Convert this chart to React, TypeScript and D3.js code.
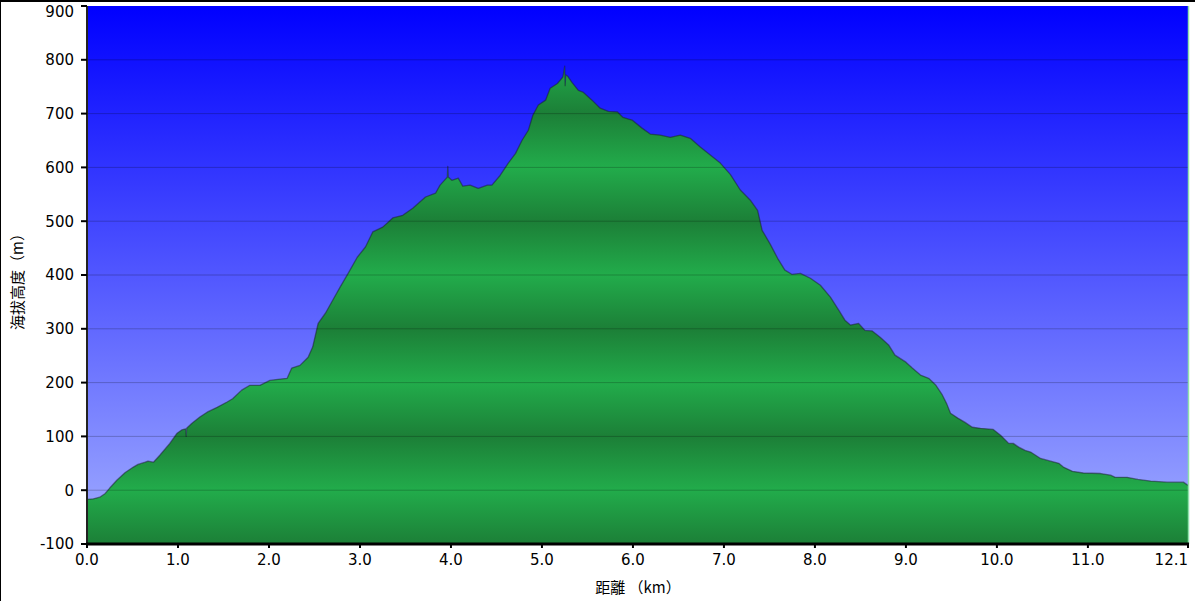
import * as d3 from 'd3';

// elevation profile (km, m)
const distKm = [
  0.0, 0.07, 0.14, 0.2, 0.25, 0.33, 0.42, 0.51, 0.56, 0.64, 0.67, 0.73, 0.8, 0.91, 0.99,
  1.04, 1.085, 1.09, 1.095, 1.15, 1.24, 1.32, 1.43, 1.54, 1.6, 1.7, 1.79, 1.9, 2.01, 2.1,
  2.2, 2.25, 2.34, 2.43, 2.48, 2.54, 2.62, 2.7, 2.78, 2.87, 2.97, 3.06, 3.14, 3.25, 3.36,
  3.47, 3.58, 3.72, 3.83, 3.88, 3.96, 3.965, 3.97, 4.01, 4.08, 4.13, 4.21, 4.3, 4.4, 4.45,
  4.54, 4.63, 4.71, 4.78, 4.85, 4.9, 4.96, 5.04, 5.09, 5.17, 5.23, 5.25, 5.255, 5.26, 5.28,
  5.33, 5.4, 5.45, 5.55, 5.64, 5.73, 5.83, 5.89, 5.99, 6.1, 6.19, 6.3, 6.41, 6.52, 6.63,
  6.74, 6.85, 6.96, 7.07, 7.18, 7.29, 7.37, 7.42, 7.51, 7.59, 7.67, 7.75, 7.84, 7.95, 8.06,
  8.17, 8.26, 8.33, 8.39, 8.48, 8.55, 8.63, 8.72, 8.81, 8.88, 9.0, 9.07, 9.16, 9.25, 9.33,
  9.4, 9.45, 9.49, 9.57, 9.65, 9.73, 9.82, 9.96, 10.04, 10.13, 10.18, 10.24, 10.31, 10.37, 10.48,
  10.59, 10.68, 10.73, 10.83, 10.95, 11.14, 11.25, 11.3, 11.43, 11.55, 11.69, 11.87, 12.05, 12.1,
];
const elevM = [
  -17, -16, -13, -6, 4, 19, 33, 43, 48, 52, 54, 52, 65, 87, 106,
  112, 114, 100, 115, 124, 136, 145, 154, 164, 170, 186, 195, 195, 204, 206,
  208, 227, 232, 247, 266, 310, 329, 353, 377, 403, 433, 452, 480, 489, 506,
  511, 524, 545, 552, 567, 582, 602, 582, 576, 580, 565, 567, 561, 567, 567,
  585, 608, 626, 650, 669, 697, 716, 725, 747, 756, 768, 788, 752, 772, 770,
  758, 743, 740, 725, 710, 704, 703, 693, 688, 673, 662, 660, 656, 660, 654,
  638, 623, 608, 587, 558, 539, 520, 483, 457, 431, 409, 401, 403, 394, 381,
  359, 335, 316, 307, 310, 297, 296, 284, 270, 251, 238, 227, 214, 208, 195,
  177, 160, 143, 134, 126, 117, 115, 113, 102, 87, 87, 80, 74, 71, 59,
  54, 50, 43, 35, 32, 31, 28, 24, 24, 20, 17, 15, 15, 9,
];

const xTicks = [0, 1, 2, 3, 4, 5, 6, 7, 8, 9, 10, 11, 12.1];
const yTicks = [-100, 0, 100, 200, 300, 400, 500, 600, 700, 800, 900];
const xTitle = '距離 （km）';
const yTitle = '海拔高度（m）';

const W = 1195;
const H = 601;
const left = 87;
const right = 1188;
const top = 6;
const bottom = 544;

const font = '"DejaVu Sans", Verdana, sans-serif';
const cjk = '"Noto Sans CJK JP", "Noto Sans CJK SC", sans-serif';

export default function App() {
  const x = d3.scaleLinear().domain([0, 12.1]).range([left, right]);
  const y = d3.scaleLinear().domain([-100, 900]).range([bottom, top]);

  const pts = distKm.map((d, i) => ({ d, e: elevM[i] }));

  const area = d3.area<(typeof pts)[0]>()
    .x((p) => x(p.d))
    .y0(y(-100))
    .y1((p) => y(p.e));
  const line = d3.line<(typeof pts)[0]>()
    .x((p) => x(p.d))
    .y((p) => y(p.e));

  // green bands: light at even hundreds, dark at odd hundreds
  const bandStops = yTicks
    .map((v) => ({
      offset: (y(v) - top) / (bottom - top),
      color: Math.abs(v / 100) % 2 === 0 ? '#22ac4b' : '#1c7f37',
    }))
    .sort((a, b) => a.offset - b.offset);

  return (
    <svg
      width={W}
      height={H}
      style={{ position: 'absolute', left: 0, top: 0, background: '#fff' }}
    >
      <defs>
        <linearGradient id="sky" x1="0" y1="0" x2="0" y2="1">
          <stop offset="0" stopColor="#0000ff" />
          <stop offset="1" stopColor="#a2aeff" />
        </linearGradient>
        <linearGradient
          id="ground"
          gradientUnits="userSpaceOnUse"
          x1="0"
          y1={top}
          x2="0"
          y2={bottom}
        >
          {bandStops.map((s, i) => (
            <stop key={i} offset={s.offset} stopColor={s.color} />
          ))}
        </linearGradient>
      </defs>

      {/* frame */}
      <line x1={0} y1={1} x2={W} y2={1} stroke="#000" strokeWidth={2} />
      <line x1={0.5} y1={0} x2={0.5} y2={H} stroke="#000" strokeWidth={1} />

      {/* plot background */}
      <rect x={left} y={top} width={right - left} height={bottom - top} fill="url(#sky)" />

      {/* elevation area */}
      <path d={area(pts) ?? ''} fill="url(#ground)" />
      <path
        d={line(pts) ?? ''}
        fill="none"
        stroke="#1a1a30"
        strokeOpacity={0.5}
        strokeWidth={1.3}
        strokeLinejoin="round"
      />

      {/* grid */}
      {yTicks.slice(1, -1).map((v) => (
        <line
          key={v}
          x1={left}
          x2={right}
          y1={y(v)}
          y2={y(v)}
          stroke="#000"
          strokeOpacity={0.22}
          strokeWidth={1}
        />
      ))}

      {/* right edge marker */}
      <line
        x1={x(12.1) + 0.5}
        x2={x(12.1) + 0.5}
        y1={top}
        y2={bottom}
        stroke="#8fe0aa"
        strokeWidth={1.5}
      />

      {/* y axis */}
      <line x1={left} x2={left} y1={top} y2={bottom} stroke="#222" strokeWidth={2} />
      {yTicks.map((v) => (
        <g key={v}>
          <line x1={left - 6} x2={left} y1={y(v)} y2={y(v)} stroke="#000" strokeWidth={2} />
          <text
            x={left - 13}
            y={Math.max(y(v), top + 6)}
            dy="0.36em"
            textAnchor="end"
            fontFamily={font}
            fontSize={15}
            fill="#000"
          >
            {v}
          </text>
        </g>
      ))}

      {/* x axis */}
      <line x1={left - 1} x2={right + 1} y1={bottom} y2={bottom} stroke="#000" strokeWidth={3} />
      {xTicks.map((v, i) => {
        const last = i === xTicks.length - 1;
        return (
          <g key={v}>
            <line x1={x(v)} x2={x(v)} y1={bottom} y2={bottom + 4} stroke="#000" strokeWidth={2} />
            <text
              x={x(v)}
              y={565}
              textAnchor={last ? 'end' : 'middle'}
              fontFamily={font}
              fontSize={15}
              fill="#000"
            >
              {v.toFixed(1)}
            </text>
          </g>
        );
      })}

      {/* titles */}
      <text x={638} y={593} textAnchor="middle" fontFamily={cjk} fontSize={15} fill="#000">
        {xTitle}
      </text>
      <text
        transform={`translate(23,${278}) rotate(-90)`}
        textAnchor="middle"
        fontFamily={cjk}
        fontSize={15}
        fill="#000"
      >
        {yTitle}
      </text>
    </svg>
  );
}
